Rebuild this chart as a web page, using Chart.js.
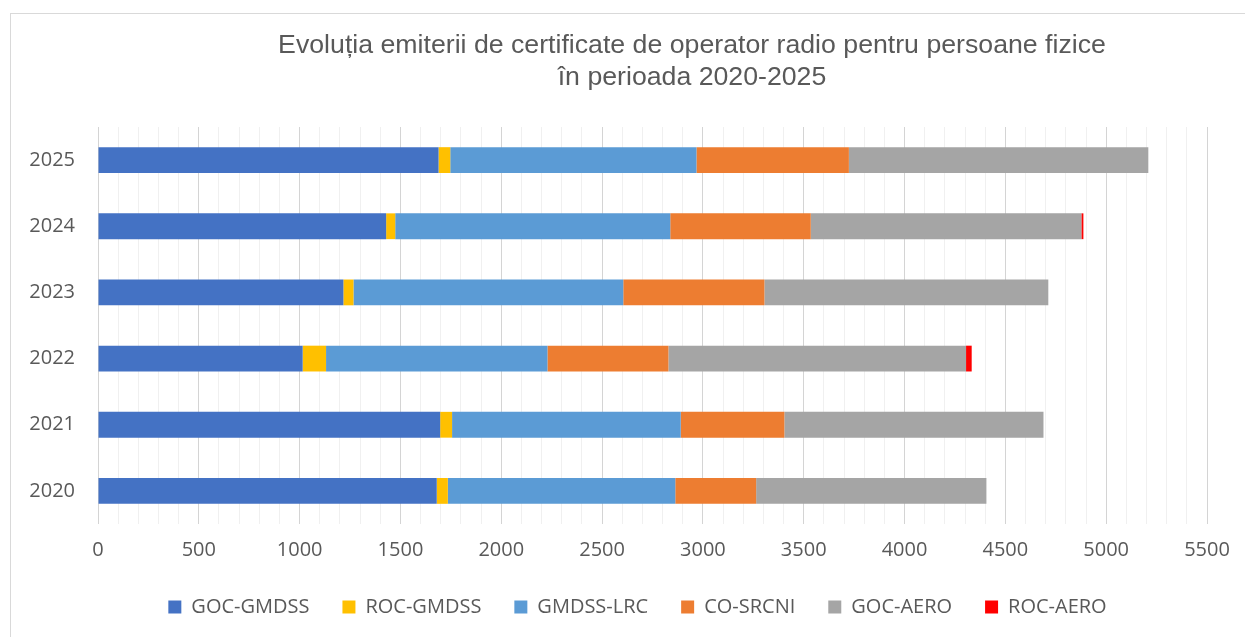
<!DOCTYPE html>
<html>
<head>
<meta charset="utf-8">
<script src="https://cdn.jsdelivr.net/npm/chart.js@4.4.1/dist/chart.umd.min.js"></script>
<style>
    body { margin: 0; background: #fff; overflow: hidden; }
    #cadru {
        position: absolute; left: 10px; top: 13px;
        width: 1260px; height: 640px;
        border: 1px solid #d9d9d9;
    }
    #zona { position: absolute; left: 0; top: 0; width: 1245px; height: 637px; }
</style>
</head>
<body>
<div id="cadru"></div>
<div id="zona"><canvas id="graficCertificate"></canvas></div>
<script>
// Date (persoane fizice, 2020-2025)
const ani = ['2020', '2021', '2022', '2023', '2024', '2025'];
const gocGmdss = [1680, 1697, 1015, 1217, 1429, 1689];
const rocGmdss = [55, 59, 116, 50, 45, 58];
const gmdssLrc = [1128, 1134, 1098, 1338, 1364, 1221];
const coSrcni = [401, 514, 600, 700, 697, 756];
const gocAero = [1142, 1285, 1476, 1408, 1342, 1485];
const rocAero = [0, 0, 28, 0, 10, 0];

const titluRanduri = [
    'Evoluția emiterii de certificate de operator radio pentru persoane fizice',
    'în perioada 2020-2025'
];

const culoareText = '#595959';
const fontEtichete = { family: '"Open Sans", sans-serif', size: 20 };

// Titlul e desenat separat ca sa stea unde e in original (decalat spre dreapta)
const pluginTitlu = {
    id: 'titluManual',
    afterDraw(chart) {
        const ctx = chart.ctx;
        ctx.save();
        ctx.fillStyle = culoareText;
        ctx.font = '26.7px "Liberation Sans", Arial, sans-serif';
        ctx.textAlign = 'center';
        ctx.textBaseline = 'middle';
        ctx.fillText(titluRanduri[0], 692, 46);
        ctx.fillText(titluRanduri[1], 692, 78);
        ctx.restore();
    }
};

// Legenda din original e putin mutata spre dreapta
const pluginLegenda = {
    id: 'mutaLegenda',
    afterLayout(chart) {
        const dx = 29;
        chart.legend.left += dx;
        chart.legend.right += dx;
    }
};

function serie(nume, valori, culoare) {
    return {
        label: nume,
        data: valori,
        backgroundColor: culoare,
        borderWidth: 0,
        categoryPercentage: 1,
        barPercentage: 0.39
    };
}

const ctx = document.getElementById('graficCertificate').getContext('2d');

new Chart(ctx, {
    type: 'bar',
    data: {
        labels: ani,
        datasets: [
            serie('GOC-GMDSS', gocGmdss, '#4472C4'),
            serie('ROC-GMDSS', rocGmdss, '#FFC000'),
            serie('GMDSS-LRC', gmdssLrc, '#5B9BD5'),
            serie('CO-SRCNI', coSrcni, '#ED7D31'),
            serie('GOC-AERO', gocAero, '#A5A5A5'),
            serie('ROC-AERO', rocAero, '#FF0000')
        ]
    },
    options: {
        indexAxis: 'y',
        responsive: true,
        maintainAspectRatio: false,
        animation: false,
        layout: { padding: { left: 10, right: 38, top: 127, bottom: 23 } },
        plugins: {
            title: { display: false },
            tooltip: { enabled: false },
            legend: {
                position: 'bottom',
                maxHeight: 50,
                labels: {
                    color: culoareText,
                    font: fontEtichete,
                    boxWidth: 13,
                    boxHeight: 13,
                    padding: 33
                }
            }
        },
        scales: {
            x: {
                stacked: true,
                min: 0,
                max: 5500,
                border: { display: false },
                grid: {
                    drawTicks: false,
                    color: c => (c.tick && c.tick.value % 500 === 0) ? '#d4d4d4' : '#f0f0f0'
                },
                ticks: {
                    stepSize: 100,
                    autoSkip: false,
                    maxRotation: 0,
                    padding: 14,
                    color: culoareText,
                    font: fontEtichete,
                    callback: v => (v % 500 === 0 ? v : '')
                },
                afterFit: s => { s.height = 40; }
            },
            y: {
                stacked: true,
                reverse: true,
                border: { display: false },
                grid: { display: false, drawTicks: false },
                ticks: { padding: 23, color: culoareText, font: fontEtichete },
                afterFit: s => { s.width = 88; }
            }
        }
    },
    plugins: [pluginTitlu, pluginLegenda]
});
</script>
</body>
</html>
